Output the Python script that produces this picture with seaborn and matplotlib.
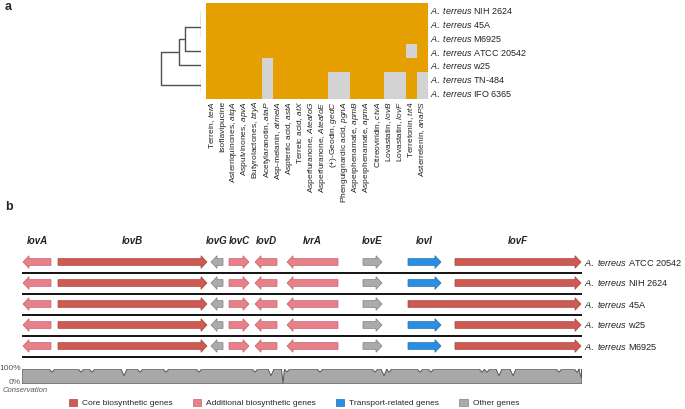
import matplotlib
matplotlib.use('Agg')
import matplotlib.pyplot as plt
import numpy as np
import pandas as pd
import seaborn as sns
from matplotlib.colors import ListedColormap
from matplotlib.patches import FancyArrow, Patch

sns.set_style('white')
plt.rcParams['font.family'] = ['Liberation Sans', 'DejaVu Sans']
plt.rcParams['mathtext.fontset'] = 'custom'
plt.rcParams['mathtext.rm'] = 'Liberation Sans'
plt.rcParams['mathtext.it'] = 'Liberation Sans:italic'
plt.rcParams['mathtext.bf'] = 'Liberation Sans:bold'

# ---- panel a: presence / absence of BGCs ----
strains_a = ['NIH 2624', '45A', 'M6925', 'ATCC 20542', 'w25', 'TN-484', 'IFO 6365']
compounds = ['Terrein', 'Isoflavipucine', 'Asterriquinones', 'Aspulvinones', 'Butyrolactones',
             'Acetylaranotin', 'Asp-melanin', 'Aspterric acid', 'Terreic acid', 'Asperfuranone',
             'Asperfuranone', '(+)-Geodin', 'Phenguignardic acid', 'Asperphenamate', 'Asperphenamate',
             'Citreoviridin', 'Lovastatin', 'Lovastatin', 'Terretonin', 'Asterrelenin']
core_genes = ['terA', '', 'atqA', 'apvA', 'btyA', 'ataP', 'atmelA', 'astA', 'atX', 'AteafoG',
              'AteafoE', 'gedC', 'pgnA', 'apmB', 'apmA', 'ctvA', 'lovB', 'lovF', 'trt4', 'anaPS']
presence = [
    [1, 1, 1, 1, 1, 1, 1, 1, 1, 1, 1, 1, 1, 1, 1, 1, 1, 1, 1, 1],
    [1, 1, 1, 1, 1, 1, 1, 1, 1, 1, 1, 1, 1, 1, 1, 1, 1, 1, 1, 1],
    [1, 1, 1, 1, 1, 1, 1, 1, 1, 1, 1, 1, 1, 1, 1, 1, 1, 1, 1, 1],
    [1, 1, 1, 1, 1, 1, 1, 1, 1, 1, 1, 1, 1, 1, 1, 1, 1, 1, 0, 1],
    [1, 1, 1, 1, 1, 0, 1, 1, 1, 1, 1, 1, 1, 1, 1, 1, 1, 1, 1, 1],
    [1, 1, 1, 1, 1, 0, 1, 1, 1, 1, 1, 0, 0, 1, 1, 1, 0, 0, 1, 0],
    [1, 1, 1, 1, 1, 0, 1, 1, 1, 1, 1, 0, 0, 1, 1, 1, 0, 0, 1, 0],
]
# dendrogram links: (child a, child b, height); leaves 0-6, new nodes from 7
dendro_links = [(0, 1, 0.0), (7, 2, 0.0), (8, 3, 1.0), (9, 4, 1.36), (5, 6, 0.0), (10, 11, 2.52)]

# ---- panel b: lovastatin cluster ----
strains_b = ['ATCC 20542', 'NIH 2624', '45A', 'w25', 'M6925']
genes_b = ['lovA', 'lovB', 'lovG', 'lovC', 'lovD', 'lvrA', 'lovE', 'lovI', 'lovF']
gene_start = [0.1, 3.6, 18.9, 20.7, 23.3, 26.5, 34.1, 38.6, 43.3]   # kb
gene_end = [2.9, 18.5, 20.1, 22.7, 25.5, 31.6, 36.0, 41.9, 55.9]
gene_strand = [-1, 1, -1, 1, -1, -1, 1, 1, 1]
gene_class = ['Additional', 'Core', 'Other', 'Additional', 'Additional', 'Additional',
              'Other', 'Transport', 'Core']
lovI_present = [1, 1, 0, 1, 1]
lovF_start = [43.3, 43.3, 38.6, 43.3, 43.3]

cons_dip_pos = [3.0, 5.9, 7.0, 10.2, 11.8, 14.4, 17.7, 23.3, 24.9, 26.1, 26.5, 29.8, 35.3,
                36.2, 36.7, 39.8, 40.9, 46.0, 46.5, 47.7, 49.1, 53.7, 55.5, 55.95]
cons_dip_val = [78, 78, 78, 55, 78, 78, 78, 78, 55, 5, 80, 78, 78,
                55, 78, 78, 78, 78, 78, 55, 55, 78, 78, 40]
cluster_len = 56.0

class_colors = {'Core': '#cd5a53', 'Additional': '#e8808a',
                'Transport': '#2b8ee0', 'Other': '#ababab'}
class_edges = {'Core': '#a84540', 'Additional': '#c0646d',
               'Transport': '#1f6fb0', 'Other': '#7f7f7f'}
legend_names = {'Core': 'Core biosynthetic genes', 'Additional': 'Additional biosynthetic genes',
                'Transport': 'Transport-related genes', 'Other': 'Other genes'}

W, H = 685, 409
fig = plt.figure(figsize=(W / 100, H / 100), dpi=100)


def px_axes(x0, y0, x1, y1):
    return fig.add_axes([x0 / W, 1 - y1 / H, (x1 - x0) / W, (y1 - y0) / H])


def species_label(strain):
    return '$\\it{A.\\ terreus}$ ' + strain


# heatmap
ax_hm = px_axes(206, 3, 428, 99)
col_labels = [f'{c}, $\\it{{{g}}}$' if g else c for c, g in zip(compounds, core_genes)]
row_labels = [species_label(s) for s in strains_a]
df = pd.DataFrame(presence, index=row_labels, columns=col_labels)
sns.heatmap(df, ax=ax_hm, cmap=ListedColormap(['#d3d3d3', '#e69f00']), vmin=0, vmax=1,
            cbar=False, xticklabels=True, yticklabels=True)
ax_hm.yaxis.tick_right()
ax_hm.tick_params(length=0, pad=1.5)
ax_hm.set_yticklabels(row_labels, rotation=0, fontsize=6.5, color='#222222')
ax_hm.set_xticklabels(col_labels, rotation=90, fontsize=6, color='#222222')
ax_hm.set_xlabel('')
ax_hm.set_ylabel('')

# dendrogram
ax_d = px_axes(150, 3, 201, 99)
pos = {i: i + 0.5 for i in range(len(strains_a))}
hgt = {i: 0.0 for i in range(len(strains_a))}
for k, (a, b, h) in enumerate(dendro_links):
    node = len(strains_a) + k
    col = '#a0a0a0' if h == 0 else '#505050'
    ax_d.plot([hgt[a], h, h, hgt[b]], [pos[a], pos[a], pos[b], pos[b]], color=col, lw=1.0,
              solid_capstyle='butt')
    pos[node] = (pos[a] + pos[b]) / 2
    hgt[node] = h
ax_d.set_xlim(51 / 16, 0)
ax_d.set_ylim(len(strains_a), 0)
ax_d.axis('off')

# gene arrows
ax_b = px_axes(22, 235, 582, 358)
ax_b.set_xlim(0, cluster_len)
ax_b.set_ylim((358 - 262) / 21, (235 - 262) / 21)
ax_b.axis('off')
for r, strain in enumerate(strains_b):
    for g, name in enumerate(genes_b):
        start, end = gene_start[g], gene_end[g]
        if name == 'lovI' and not lovI_present[r]:
            continue
        if name == 'lovF':
            start = lovF_start[r]
        length = end - start
        x0 = start if gene_strand[g] > 0 else end
        arr = FancyArrow(x0, r, gene_strand[g] * length, 0, width=0.32, head_width=0.6,
                         head_length=0.6, length_includes_head=True,
                         facecolor=class_colors[gene_class[g]],
                         edgecolor=class_edges[gene_class[g]], lw=0.5)
        ax_b.add_patch(arr)
    ax_b.hlines(r + 0.5, 0, cluster_len, color='black', lw=1.3)
    ax_b.text(cluster_len + 0.2, r, species_label(strain), fontsize=6.6,
              va='center', ha='left', color='#222222', clip_on=False)
for g, name in enumerate(genes_b):
    ax_b.text((gene_start[g] + gene_end[g]) / 2, -1.0, name, fontsize=7, fontweight='bold',
              fontstyle='italic', ha='center', va='center', color='#222222')

# conservation track
ax_c = px_axes(22, 369, 582, 384)
cx, cy = [0.0], [100.0]
for p, v in zip(cons_dip_pos, cons_dip_val):
    w = 0.28 if v > 70 else 0.3
    if v < 20:
        w = 0.15
    cx += [p - w, p, min(p + w, cluster_len)]
    cy += [100, v, 100]
cx += [cluster_len, cluster_len, 0.0]
cy += [100, 0, 0]
ax_c.fill(cx, cy, facecolor='#a8a8a8', edgecolor='#555555', lw=0.7)
ax_c.set_xlim(0, cluster_len)
ax_c.set_ylim(0, 100)
ax_c.axis('off')
fig.text(21 / W, 1 - 369 / H, '100%', fontsize=6, color='#555555', ha='right', va='center')
fig.text(21 / W, 1 - 382 / H, '0%', fontsize=6, color='#555555', ha='right', va='center')
fig.text(3 / W, 1 - 391 / H, 'Conservation', fontsize=5.5, color='#555555', style='italic',
         ha='left', va='center')

# legend
handles = [Patch(facecolor=class_colors[k], edgecolor=class_edges[k], lw=0.5, label=legend_names[k])
           for k in ['Core', 'Additional', 'Transport', 'Other']]
fig.legend(handles=handles, loc='center', bbox_to_anchor=(294 / W, 1 - 403 / H), ncol=4,
           frameon=False, fontsize=6, handlelength=1.0, handleheight=1.0,
           handletextpad=0.6, columnspacing=2.4, borderpad=0)

# panel letters
fig.text(5 / W, 1 - 7 / H, 'a', fontsize=9, fontweight='bold', va='center')
fig.text(5 / W, 1 - 207 / H, 'b', fontsize=9, fontweight='bold', va='center')

fig.savefig('out.png', dpi=100)
